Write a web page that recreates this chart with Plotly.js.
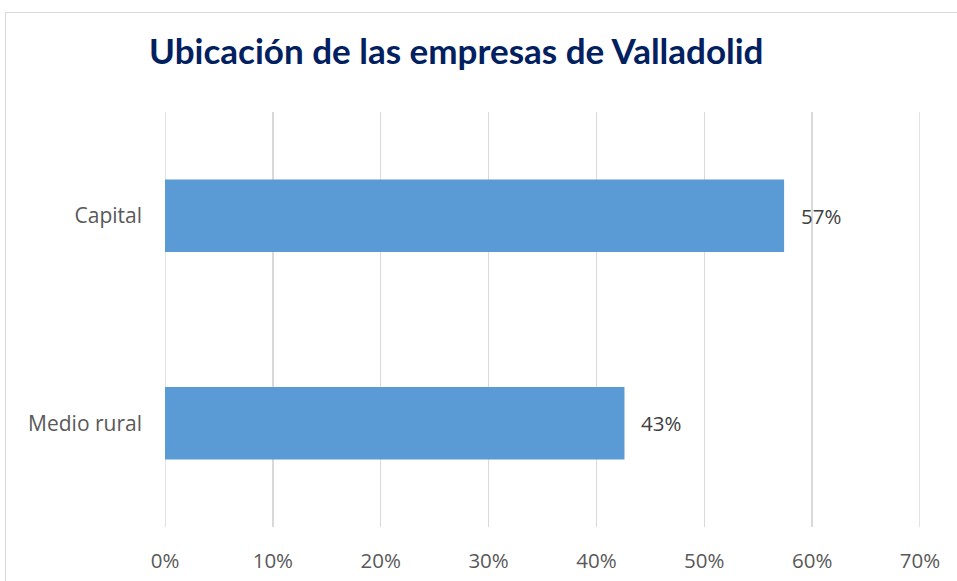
<!DOCTYPE html>
<html>
<head>
<meta charset="utf-8">
<script src="https://cdn.plot.ly/plotly-3.0.1.min.js"></script>
<style>
  html, body { margin: 0; padding: 0; background: #fff; overflow: hidden; }
  #frame { position: absolute; left: 5px; top: 12px; width: 1200px; height: 800px;
           border-left: 1.5px solid #d9d9d9; border-top: 1.5px solid #d9d9d9; pointer-events: none; }
  #chart { position: absolute; left: 0; top: 0; width: 957px; height: 581px; }
</style>
</head>
<body>
<div id="chart"></div>
<div id="frame"></div>
<script>
const titleText = "Ubicación de las empresas de Valladolid";
const categories = ["Capital", "Medio rural"];
const values = [0.574, 0.426];
const tickVals = [0, 0.1, 0.2, 0.3, 0.4, 0.5, 0.6, 0.7];
const tickLabels = ["0%", "10%", "20%", "30%", "40%", "50%", "60%", "70%"];

const labels = values.map(v => Math.round(v * 100) + "%");
const FONT = "'Open Sans', Lato, sans-serif";

const trace = {
  type: "bar",
  orientation: "h",
  x: values,
  y: categories,
  width: 0.35,
  marker: { color: "#5B9BD5" },
  hoverinfo: "none"
};

const annotations = values.map((v, i) => ({
  x: v, y: categories[i], xref: "x", yref: "y",
  text: labels[i], showarrow: false, xanchor: "left", xshift: 15,
  font: { family: FONT, size: 20.5, color: "#404040" }
}));

annotations.push({
  xref: "paper", yref: "paper", x: 0.385, y: 1, yshift: 62,
  xanchor: "center", yanchor: "middle", showarrow: false,
  text: "<b>" + titleText + "</b>",
  font: { family: "Lato, 'Open Sans', sans-serif", size: 35, color: "#002060" }
});

// gridlines at the range edges (Plotly hides grid at the edges)
const edgeGrid = [tickVals[0], tickVals[tickVals.length - 1]].map(t => ({
  type: "line", xref: "x", yref: "paper", x0: t, x1: t, y0: 0, y1: 1,
  line: { color: "#d9d9d9", width: 1.5 }, layer: "below"
}));

const layout = {
  width: 957, height: 581,
  margin: { l: 165, r: 37, t: 112, b: 54, pad: 0 },
  paper_bgcolor: "#ffffff", plot_bgcolor: "#ffffff",
  showlegend: false,
  xaxis: {
    range: [0, 0.7],
    tickvals: tickVals, ticktext: tickLabels,
    showgrid: true, gridcolor: "#d9d9d9", gridwidth: 1.5,
    zeroline: false, showline: false, ticks: "",
    ticklabelstandoff: 19,
    tickfont: { family: FONT, size: 20.5, color: "#595959" },
    fixedrange: true
  },
  yaxis: {
    type: "category",
    categoryorder: "array", categoryarray: categories,
    autorange: false, range: [1.5, -0.5],
    showgrid: false, zeroline: false, showline: false, ticks: "",
    ticklabelstandoff: 22,
    tickfont: { family: FONT, size: 21, color: "#595959" },
    fixedrange: true
  },
  shapes: edgeGrid,
  annotations: annotations
};

Plotly.newPlot("chart", [trace], layout, { displayModeBar: false, staticPlot: true });
</script>
</body>
</html>
